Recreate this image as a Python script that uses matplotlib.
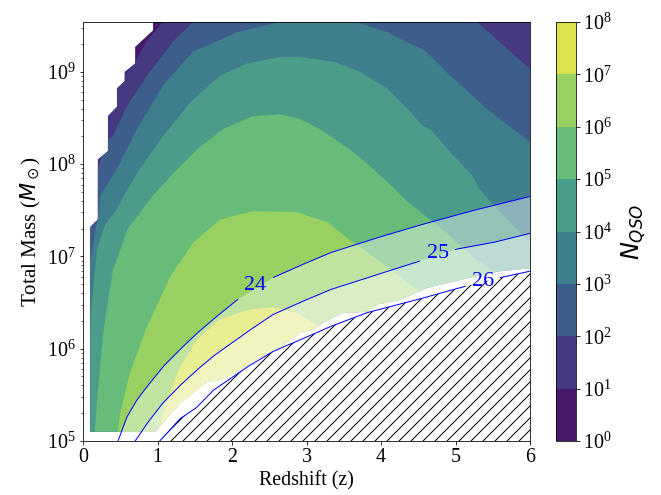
import numpy as np
import matplotlib
matplotlib.use("Agg")
import matplotlib.pyplot as plt
from matplotlib.patches import Polygon
from matplotlib.colors import ListedColormap, BoundaryNorm
from matplotlib.cm import ScalarMappable

plt.rcParams['font.family'] = 'serif'
plt.rcParams['font.serif'] = ['Liberation Serif', 'DejaVu Serif']
plt.rcParams['hatch.linewidth'] = 1.0

# ---------------- data (redshift z, log10 total mass) ----------------
# region where N_QSO is defined (stepped edge of the model grid)
data_edge_z = [0.10, 0.10, 0.20, 0.20, 0.335, 0.335, 0.456, 0.456, 0.56, 0.56, 0.70, 0.70, 0.94, 0.94,
               6.0, 6.0, 5.97, 5.60, 5.19, 4.83, 4.62, 4.26, 3.95, 3.81, 3.49, 3.22, 3.09, 2.91,
               2.74, 2.55, 2.38, 2.07, 1.84, 1.66, 1.30, 0.99, 0.966]
data_edge_logm = [5.10, 7.32, 7.40, 8.05, 8.14, 8.52, 8.62, 8.82, 8.90, 9.00, 9.09, 9.27, 9.45, 9.60,
                  9.60, 6.87, 6.87, 6.84, 6.77, 6.70, 6.66, 6.53, 6.48, 6.40, 6.39, 6.28, 6.21, 6.17,
                  6.07, 5.96, 5.91, 5.75, 5.66, 5.64, 5.41, 5.12, 5.10]

# iso-N_QSO boundaries: log10(N_QSO) = 1 ... 7
c1_z = [0.50, 0.725, 0.85, 1.07, 1.10]
c1_logm = [8.90, 9.14, 9.33, 9.54, 9.80]
c2_z = [0.0, 0.20, 0.335, 0.40, 0.59, 0.86, 1.21, 1.48, 1.50, 5.29, 5.29, 6.0]
c2_logm = [7.90, 7.95, 8.27, 8.30, 8.63, 8.96, 9.33, 9.54, 9.80, 9.80, 9.54, 9.03]
c3_z = [0.0, 0.10, 0.15, 0.215, 0.228, 0.456, 0.725, 1.07, 1.48, 2.07, 2.64, 2.70,
        3.60, 3.69, 4.08, 4.48, 4.59, 4.93, 5.42, 6.0]
c3_logm = [6.90, 6.95, 7.20, 7.51, 7.65, 7.95, 8.38, 8.85, 9.22, 9.43, 9.54, 9.80,
           9.80, 9.53, 9.43, 9.27, 9.23, 8.96, 8.60, 8.24]
c4_z = [0.0, 0.094, 0.12, 0.19, 0.30, 0.456, 0.54, 0.765, 1.07, 1.44, 1.84, 2.20, 2.64, 2.91,
        3.36, 3.72, 4.08, 4.39, 4.56, 4.66, 4.93, 5.23, 5.33, 5.60, 5.83, 6.0]
c4_logm = [6.05, 6.17, 6.53, 7.08, 7.35, 7.51, 7.65, 7.95, 8.30, 8.67, 8.96, 9.09, 9.16, 9.16,
           9.11, 9.00, 8.82, 8.57, 8.41, 8.38, 8.13, 7.87, 7.72, 7.48, 7.29, 7.15]
c5_z = [0.15, 0.19, 0.27, 0.40, 0.60, 0.93, 1.21, 1.53, 1.88, 2.28, 2.64, 2.91, 3.18, 3.58,
        3.85, 4.12, 4.35, 4.56, 4.83, 5.23, 5.60, 6.0]
c5_logm = [5.00, 5.45, 6.17, 6.85, 7.30, 7.65, 7.90, 8.16, 8.38, 8.52, 8.54, 8.49, 8.38, 8.16,
           7.98, 7.78, 7.60, 7.46, 7.29, 7.00, 6.78, 6.55]
c6_z = [0.456, 0.50, 0.63, 0.86, 1.17, 1.48, 1.84, 2.28, 2.87, 3.28, 3.58, 3.76, 4.26, 4.48, 4.70]
c6_logm = [5.05, 5.30, 5.74, 6.24, 6.78, 7.15, 7.40, 7.49, 7.48, 7.37, 7.18, 7.08, 6.78, 6.64, 6.50]
c7_z = [1.00, 1.13, 1.30, 1.53, 1.84, 2.20, 2.55, 2.87, 3.18, 3.30]
c7_logm = [5.05, 5.45, 5.80, 6.10, 6.32, 6.42, 6.45, 6.39, 6.24, 6.15]

# limiting-magnitude curves
mag_labels = ['24', '25', '26']
m24_z = [0.47, 0.59, 0.72, 0.86, 1.08, 1.30, 1.52, 1.75, 2.07, 2.55, 2.91, 3.32, 3.90, 4.48, 5.20, 6.0]
m24_logm = [5.0, 5.26, 5.44, 5.59, 5.81, 5.99, 6.16, 6.32, 6.53, 6.77, 6.90, 7.04, 7.19, 7.33, 7.49, 7.65]
m25_z = [0.70, 0.86, 1.07, 1.30, 1.53, 1.75, 2.20, 2.55, 2.91, 3.32, 3.90, 4.52, 5.02, 5.50, 6.0]
m25_logm = [5.0, 5.19, 5.41, 5.60, 5.77, 5.92, 6.18, 6.37, 6.50, 6.64, 6.79, 6.95, 7.08, 7.15, 7.25]
m26_z = [1.03, 1.30, 1.52, 1.75, 2.20, 2.55, 2.87, 3.32, 3.81, 4.48, 5.10, 5.60, 6.0]
m26_logm = [5.0, 5.24, 5.36, 5.55, 5.80, 5.97, 6.08, 6.24, 6.39, 6.53, 6.67, 6.77, 6.84]

log_levels = list(range(0, 9))
cbar_ticklabels = [r'$\mathdefault{10^{%d}}$' % k for k in log_levels]

# ---------------- figure ----------------
W, H = 661, 495
fig = plt.figure(figsize=(W / 72, H / 72), dpi=72)
ax = fig.add_axes([83 / W, 54 / H, 447 / W, 419 / H])
cax = fig.add_axes([556 / W, 54 / H, 20 / W, 419 / H])

# viridis-like band colours as they appear in the figure
band_colors = ['#471a69', '#45397f', '#3d5e8b', '#3e7e8d', '#4a9e89', '#66bc78', '#98d162', '#dbe34c']

ax.set_xlim(0, 6)
ax.set_yscale('log')
ax.set_ylim(1e5, 10 ** 9.54)

M = lambda a: 10 ** np.asarray(a, dtype=float)

data_patch = Polygon(np.column_stack([data_edge_z, M(data_edge_logm)]), closed=True,
                     facecolor=band_colors[0], edgecolor='none', transform=ax.transData, zorder=1)
ax.add_patch(data_patch)

def band_polygon(zs, ls, closure):
    pts_z = list(zs) + [c[0] for c in closure]
    pts_l = list(ls) + [c[1] for c in closure]
    return np.column_stack([pts_z, M(pts_l)])

curves = [
    (c1_z, c1_logm, [(7, 9.8), (7, 4), (-1, 4), (-1, c1_logm[0])]),
    (c2_z, c2_logm, [(7, c2_logm[-1]), (7, 4), (-1, 4), (-1, c2_logm[0])]),
    (c3_z, c3_logm, [(7, c3_logm[-1]), (7, 4), (-1, 4), (-1, c3_logm[0])]),
    (c4_z, c4_logm, [(7, c4_logm[-1]), (7, 4), (-1, 4), (-1, c4_logm[0])]),
    (c5_z, c5_logm, [(7, c5_logm[-1]), (7, 4), (c5_z[0], 4)]),
    (c6_z, c6_logm, [(c6_z[-1], 4), (c6_z[0], 4)]),
    (c7_z, c7_logm, [(c7_z[-1], 4), (c7_z[0], 4)]),
]
for k, (zs, ls, clo) in enumerate(curves, start=1):
    p = Polygon(band_polygon(zs, ls, clo), closed=True, facecolor=band_colors[k],
                edgecolor='none', zorder=1 + k * 0.01)
    ax.add_patch(p)
    p.set_clip_path(data_patch)

# white veils below the magnitude limits
ax.fill_between(m24_z, 1e4, M(m24_logm), facecolor='white', alpha=0.4, linewidth=0, zorder=2)
ax.fill_between(m25_z, 1e4, M(m25_logm), facecolor='white', alpha=0.4, linewidth=0, zorder=2.1)
ax.fill_between(m26_z, 1e4, M(m26_logm), facecolor='white', edgecolor='black', hatch='//',
                linewidth=0, zorder=2.2)

label_pos = [(2.31, 6.68), (4.76, 7.03), (5.37, 6.73)]
gaps = [(2.08, 2.55), (4.52, 5.00), (5.13, 5.60)]
for (zs, ls), lab, (lz, ll), (g0, g1) in zip([(m24_z, m24_logm), (m25_z, m25_logm), (m26_z, m26_logm)],
                                            mag_labels, label_pos, gaps):
    zz = np.linspace(zs[0], zs[-1], 600)
    ll_i = np.interp(zz, zs, ls)
    ll_i[(zz > g0) & (zz < g1)] = np.nan
    ax.plot(zz, 10 ** ll_i, color='blue', lw=1.0, zorder=3)
    ax.text(lz, 10 ** ll, lab, color='blue', fontsize=22, family='serif',
            ha='center', va='center', zorder=4)

ax.set_xticks(range(0, 7))
ax.tick_params(axis='both', labelsize=20)
ax.set_xlabel('Redshift (z)', fontsize=20)
ax.set_ylabel(r'Total Mass ($M_\odot$)', fontsize=21)

# colorbar
cmap_b = ListedColormap(band_colors)
norm_b = BoundaryNorm(log_levels, cmap_b.N)
sm = ScalarMappable(norm=norm_b, cmap=cmap_b)
cb = fig.colorbar(sm, cax=cax, ticks=log_levels)
cb.set_ticklabels(cbar_ticklabels)
cb.ax.tick_params(labelsize=20)
cb.set_label(r'$N_{QSO}$', fontsize=24, labelpad=8)

fig.savefig('out.png', dpi=72)
